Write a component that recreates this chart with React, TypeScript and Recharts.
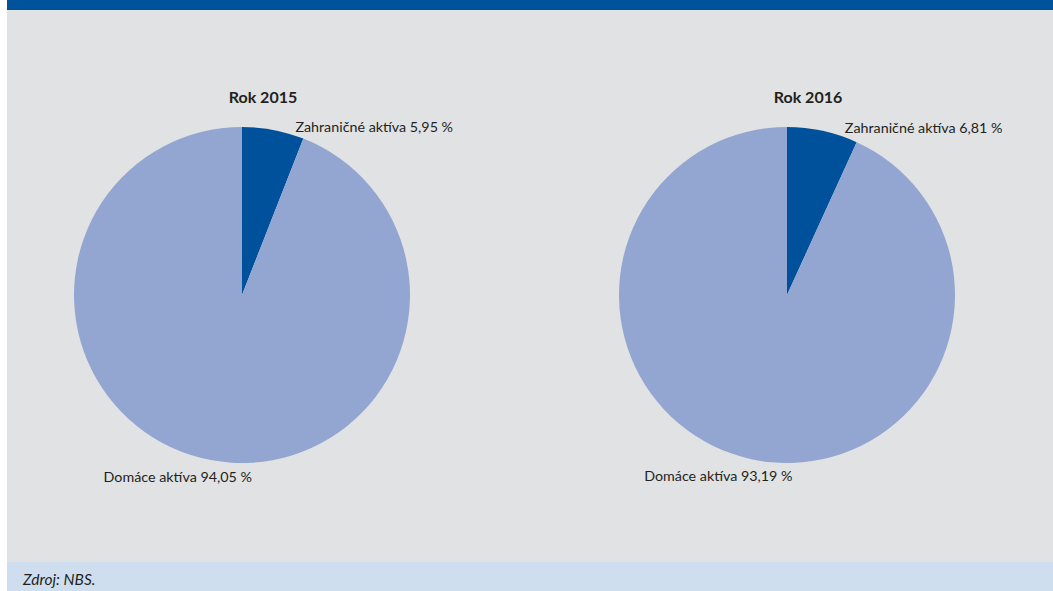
import { Pie, PieChart, Cell } from 'recharts'

const years = ['Rok 2015', 'Rok 2016']
const categories = ['Zahraničné aktíva', 'Domáce aktíva']
const foreignShare = [5.95, 6.81]
const domesticShare = [94.05, 93.19]

const sliceColors = ['#00519c', '#93a6d1']
const pieCenters = [235, 780]
const RADIAN = Math.PI / 180

function fmt(v: number) {
  return `${v.toFixed(2).replace('.', ',')} %`
}

function renderLabel(props: any) {
  const { cx, cy, midAngle, outerRadius, index, payload } = props
  const x = cx + outerRadius * Math.cos(-midAngle * RADIAN)
  const y = cy + outerRadius * Math.sin(-midAngle * RADIAN)
  const foreign = index === 0
  return (
    <text
      x={foreign ? x + 101 : x - 33}
      y={foreign ? y + 2 : y + 22}
      textAnchor="middle"
      fill="#231f20"
      fontSize={14.3}
      fontFamily="Lato, sans-serif"
    >
      {`${payload.name} ${fmt(payload.value)}`}
    </text>
  )
}

export default function App() {
  const pies = years.map((year, i) => ({
    year,
    data: categories.map((name, k) => ({
      name,
      value: k === 0 ? foreignShare[i] : domesticShare[i],
    })),
  }))

  return (
    <div
      style={{
        position: 'absolute',
        left: 7,
        top: 0,
        width: 1046,
        height: 591,
        background: '#e1e2e4',
        overflow: 'hidden',
        fontFamily: 'Lato, sans-serif',
      }}
    >
      <div style={{ position: 'absolute', left: 0, top: 0, width: 1046, height: 10, background: '#00529b' }} />
      {pies.map((p, i) => (
        <div
          key={p.year}
          style={{
            position: 'absolute',
            left: pieCenters[i] + 21 - 100,
            top: 86,
            width: 200,
            textAlign: 'center',
            fontWeight: 700,
            fontSize: 16,
            color: '#231f20',
            lineHeight: '22px',
          }}
        >
          {p.year}
        </div>
      ))}
      <div style={{ position: 'absolute', left: 0, top: 0 }}>
        <PieChart width={1046} height={562} margin={{ top: 0, right: 0, bottom: 0, left: 0 }}>
          {pies.map((p, i) => (
            <Pie
              key={p.year}
              data={p.data}
              dataKey="value"
              nameKey="name"
              cx={pieCenters[i]}
              cy={295}
              outerRadius={168}
              startAngle={90}
              endAngle={-270}
              stroke="none"
              label={renderLabel}
              labelLine={false}
              isAnimationActive={false}
            >
              {p.data.map((d, k) => (
                <Cell key={d.name} fill={sliceColors[k]} />
              ))}
            </Pie>
          ))}
        </PieChart>
      </div>
      <div
        style={{
          position: 'absolute',
          left: 0,
          top: 562,
          width: 1046,
          height: 29,
          background: '#cedeee',
        }}
      >
        <div
          style={{
            position: 'absolute',
            left: 16,
            top: 7,
            fontStyle: 'italic',
            fontSize: 15.5,
            color: '#231f20',
            lineHeight: '20px',
          }}
        >
          Zdroj: NBS.
        </div>
      </div>
    </div>
  )
}
